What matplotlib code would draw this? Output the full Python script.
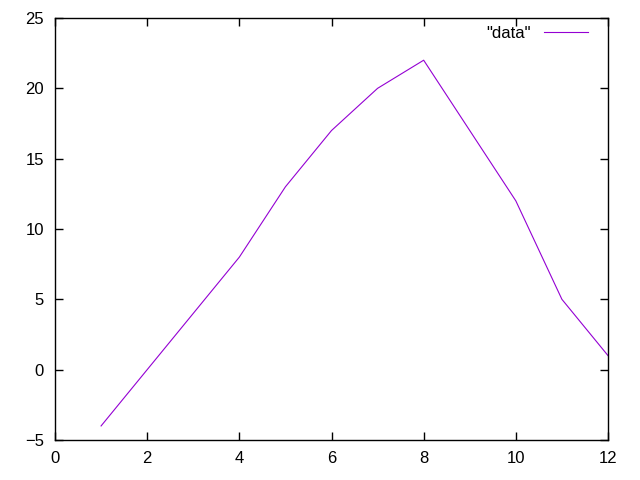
import matplotlib
matplotlib.use("Agg")
import matplotlib.pyplot as plt

x = [1, 2, 3, 4, 5, 6, 7, 8, 9, 10, 11, 12]
y = [-4, 0, 4, 8, 13, 17, 20, 22, 17, 12, 5, 1]

plt.rcParams['font.family'] = ['Liberation Sans', 'DejaVu Sans']

fig = plt.figure(figsize=(6.4, 4.8), dpi=100)
ax = fig.add_axes([55/640, 40/480, (608-55)/640, (440-18)/480])

ax.plot(x, y, color='#9400d3', linewidth=0.8, label='"data"')

ax.set_xlim(0, 12)
ax.set_ylim(-5, 25)
ax.set_xticks(range(0, 13, 2))
ax.set_yticks(range(-5, 26, 5))
ax.tick_params(direction='in', top=True, right=True, labelsize=12, length=6, width=1, pad=8)
for s in ax.spines.values():
    s.set_linewidth(1)

leg = ax.legend(loc='upper right', bbox_to_anchor=(1 - 12/553, 1), frameon=False,
                fontsize=12, handlelength=2.6, borderaxespad=0.1, handletextpad=0.8,
                markerfirst=False)

fig.savefig("out.png", dpi=100)
